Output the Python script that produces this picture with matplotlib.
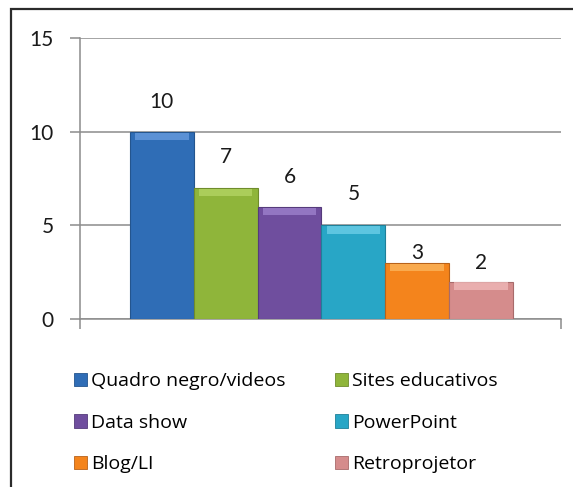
import matplotlib
matplotlib.use("Agg")
import matplotlib.pyplot as plt
from matplotlib.patches import Patch, Rectangle
import numpy as np

categories = ["Quadro negro/videos", "Sites educativos", "Data show",
              "PowerPoint", "Blog/LI", "Retroprojetor"]
values = [10, 7, 6, 5, 3, 2]
colors = ["#2f6db6", "#8fb53a", "#6f4e9e", "#28a6c6", "#f4841c", "#d58c8c"]
tops = ["#6b9ee0", "#b5d666", "#a084cf", "#6fd0ea", "#fbb860", "#f0baba"]
edges = ["#24558e", "#6f8c2c", "#553b7b", "#1f8099", "#b8621a", "#a86b6b"]
label_offsets_px = [30, 31, 30, 31, 10, 19]
yticks = [0, 5, 10, 15]

plt.rcParams['font.family'] = ['Lato', 'DejaVu Sans']

W, H, DPI = 573, 487, 100
fig = plt.figure(figsize=(W / DPI, H / DPI), dpi=DPI)
fig.patch.set_facecolor("white")

# outer border (cropped at right/bottom)
fig.patches.append(Rectangle((11 / W, -0.1), 1.2, 1 - 9 / H + 0.1,
                             transform=fig.transFigure, fill=False,
                             edgecolor="#2b2b2b", linewidth=1.6))

ax = fig.add_axes([80 / W, (H - 319) / H, 481 / W, 281 / H])
x = np.arange(len(values))
ax.bar(x, values, width=1.0, color=colors, edgecolor=edges, linewidth=0.8, zorder=3)
bevel = 0.4
ax.bar(x, [bevel] * len(values), bottom=[v - bevel - 0.05 for v in values], width=0.84,
       color=tops, linewidth=0, zorder=4, alpha=0.75)

for xi, v, off in zip(x, values, label_offsets_px):
    ax.annotate(str(v), (xi, v), xytext=(0, off * 72 / DPI), textcoords="offset points",
                ha="center", va="center", fontsize=15, color="#1a1a1a", zorder=5)

ax.set_ylim(0, 15)
ax.set_xlim(-0.5 - 0.78, len(values) - 0.5 + 0.75)
ax.set_yticks(yticks)
ax.set_yticklabels([str(t) for t in yticks], fontsize=15, color="#1a1a1a")
ax.set_xticks(list(ax.get_xlim()))
ax.set_xticklabels(["", ""])
ax.tick_params(axis="both", direction="out", length=7, width=1.1, color="#8c8c8c", pad=12)
ax.yaxis.grid(True, color="#8c8c8c", linewidth=1.1, zorder=0)
for s in ["top", "right"]:
    ax.spines[s].set_visible(False)
for s in ["left", "bottom"]:
    ax.spines[s].set_color("#8c8c8c")
    ax.spines[s].set_linewidth(1.1)

handles = [Patch(facecolor=c, edgecolor=e, linewidth=0.6) for c, e in zip(colors, edges)]
order = [0, 2, 4, 1, 3, 5]
fig.legend([handles[i] for i in order], [categories[i] for i in order],
           ncol=2, loc="upper left", bbox_to_anchor=(74 / W, 1 - 372 / H),
           frameon=False, prop={"family": ["Open Sans", "DejaVu Sans"], "size": 14},
           handlelength=0.68, handleheight=0.68,
           handletextpad=0.2, columnspacing=2.55, labelspacing=1.22, borderpad=0,
           borderaxespad=0)

fig.savefig("out.png", dpi=DPI, facecolor="white")
